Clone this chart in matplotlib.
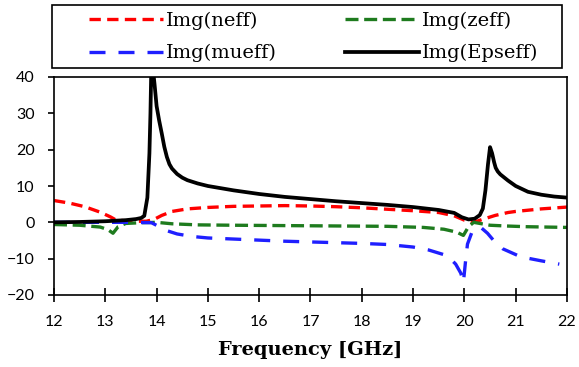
import matplotlib
matplotlib.use("Agg")
import matplotlib.pyplot as plt
from matplotlib.patches import Rectangle

# ---- data ----
f_eps = [12.0, 12.5, 13.0, 13.4, 13.6, 13.7, 13.76, 13.82, 13.86, 13.88, 13.9, 13.93, 13.96,
         14.0, 14.05, 14.1, 14.15, 14.2, 14.25, 14.3, 14.4, 14.5, 14.6, 14.8, 15.0, 15.5, 16.0,
         16.5, 17.0, 17.5, 18.0, 18.5, 19.0, 19.5, 19.8, 19.95, 20.08, 20.2, 20.3, 20.36, 20.41,
         20.46, 20.5, 20.54, 20.58, 20.61, 20.65, 20.7, 20.85, 21.0, 21.24, 21.5, 21.75, 22.0]
img_eps = [0.0, 0.1, 0.3, 0.6, 0.9, 1.2, 1.8, 6.8, 19.0, 30.0, 45.0, 42.0, 38.0,
           32.0, 28.0, 24.5, 20.8, 18.0, 16.0, 14.8, 13.3, 12.3, 11.6, 10.7, 10.0, 8.8, 7.8,
           7.0, 6.4, 5.8, 5.3, 4.8, 4.2, 3.4, 2.6, 1.4, 0.8, 1.0, 2.0, 3.8, 8.8,
           16.0, 20.7, 19.0, 16.5, 15.0, 14.0, 13.2, 11.5, 10.0, 8.4, 7.6, 7.1, 6.8]

f_n = [12.0, 12.3, 12.6, 12.9, 13.1, 13.2, 13.4, 13.6, 13.8, 13.95, 14.1, 14.3, 14.6, 15.0, 15.5,
       16.0, 16.5, 17.0, 17.5, 18.0, 18.5, 19.0, 19.5, 19.8, 20.0, 20.18, 20.35, 20.6, 20.85, 21.0,
       21.5, 22.0]
img_n = [6.0, 5.3, 4.3, 2.8, 1.5, 0.7, 0.4, 0.3, 0.3, 0.8, 1.9, 3.0, 3.7, 4.1, 4.4,
         4.5, 4.6, 4.5, 4.3, 4.0, 3.6, 3.2, 2.7, 1.8, 0.6, 0.0, 0.8, 1.9, 2.7, 3.0,
         3.7, 4.2]

f_z = [12.0, 12.5, 12.9, 13.05, 13.15, 13.25, 13.4, 13.7, 14.0, 14.3, 14.8, 15.5, 16.5, 17.5,
       18.5, 19.2, 19.6, 19.85, 19.98, 20.08, 20.18, 20.3, 20.5, 20.8, 21.2, 21.6, 22.0]
img_z = [-0.6, -0.8, -1.3, -2.0, -3.0, -1.2, -0.3, -0.1, 0.0, -0.4, -0.7, -0.8, -0.9, -1.0,
         -1.1, -1.4, -1.9, -2.7, -3.6, -1.2, 0.0, -0.3, -0.8, -1.0, -1.2, -1.3, -1.4]

f_mu = [12.0, 13.0, 13.5, 13.9, 14.05, 14.2, 14.4, 14.7, 15.0, 15.5, 16.0, 16.5, 17.0, 17.5,
        18.0, 18.5, 19.0, 19.3, 19.67, 19.83, 19.93, 19.98, 20.02, 20.06, 20.16, 20.32, 20.45,
        20.57, 20.75, 21.1, 21.5, 21.85]
img_mu = [0.0, 0.0, 0.0, -0.1, -1.2, -2.3, -3.2, -3.9, -4.3, -4.6, -4.9, -5.2, -5.4, -5.6,
          -5.8, -6.1, -6.8, -7.6, -9.2, -11.5, -14.0, -16.6, -11.0, -6.0, -2.2, -1.4, -3.0,
          -5.0, -7.3, -9.5, -10.6, -11.5]

xticks = [12, 13, 14, 15, 16, 17, 18, 19, 20, 21, 22]
yticks = [-20, -10, 0, 10, 20, 30, 40]
labels = ["Img(neff)", "Img(zeff)", "Img(mueff)", "Img(Epseff)"]

W, H = 579, 367
fig = plt.figure(figsize=(W / 100, H / 100), dpi=100)
ax = fig.add_axes([54 / W, 1 - 295 / H, 513 / W, 218 / H])

lw = 2.4
l1, = ax.plot(f_n, img_n, color="#ff0000", lw=lw, dashes=(3.4, 1.9), label=labels[0])
l2, = ax.plot(f_z, img_z, color="#1e7b1e", lw=lw, dashes=(3.9, 1.7), label=labels[1])
l3, = ax.plot(f_mu, img_mu, color="#1f1fff", lw=lw, dashes=(4.8, 3.9), label=labels[2])
l4, = ax.plot(f_eps, img_eps, color="black", lw=2.7, label=labels[3])

ax.set_xlim(12, 22)
ax.set_ylim(-20, 40)
ax.set_xticks(xticks)
ax.set_yticks(yticks)
ax.tick_params(axis="x", direction="inout", length=9.5, width=1.2, labelsize=11.5, pad=10)
ax.tick_params(axis="y", direction="out", length=4, width=1.2, labelsize=11.5, pad=10)
for lab in ax.get_xticklabels() + ax.get_yticklabels():
    lab.set_fontfamily("Lato")
for sp in ax.spines.values():
    sp.set_linewidth(1.2)

ax.set_xlabel("Frequency [GHz]", fontfamily="DejaVu Serif", fontweight="bold", fontsize=14, labelpad=8)

# legend box
fig.add_artist(Rectangle((52 / W, 1 - 68 / H), 510 / W, 63 / H, transform=fig.transFigure,
                         fill=False, edgecolor="black", lw=1.2))
legkw = dict(loc="upper left", frameon=False, prop={"family": "DejaVu Serif", "size": 14},
             handlelength=3.8, handletextpad=0.15, borderpad=0, borderaxespad=0, labelspacing=0.72)
leg1 = fig.legend(handles=[l1, l3], bbox_to_anchor=(89 / W, 1 - 12 / H), **legkw)
leg2 = fig.legend(handles=[l2, l4], bbox_to_anchor=(345 / W, 1 - 12 / H), **legkw)

fig.savefig("out.png", dpi=100)
